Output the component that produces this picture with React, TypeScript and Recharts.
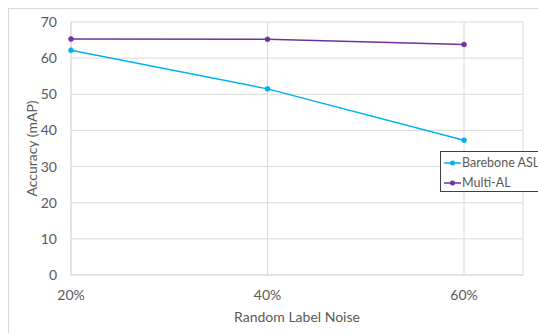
import React from 'react';
import { LineChart, Line, XAxis, YAxis, CartesianGrid, Legend, Label } from 'recharts';

// Accuracy under increasing random label noise
const noiseLevels = [20, 40, 60];
const bareboneAsl = [62.2, 51.5, 37.3];
const multiAl = [65.3, 65.2, 63.8];
const yTicks = [0, 10, 20, 30, 40, 50, 60, 70];
const xTicks = [20, 40, 60];
const seriesKeys = ['barebone', 'multi'];
const seriesNames = ['Barebone ASL', 'Multi-AL'];
const seriesColors = ['#00B0F0', '#7030A0'];

const data = noiseLevels.map((n, i) => ({
  noise: n,
  barebone: bareboneAsl[i],
  multi: multiAl[i],
}));

const FONT = 'Lato, "Open Sans", sans-serif';
const TEXT = '#595959';
const GRID = '#d9d9d9';

const LegendBox = (props: any) => {
  const { payload } = props;
  return (
    <div
      style={{
        border: '1px solid #404040',
        background: '#fff',
        width: 110,
        height: 41,
        boxSizing: 'border-box',
        paddingTop: 1,
        fontFamily: FONT,
        fontSize: 12.5,
        color: TEXT,
      }}
    >
      {(payload || []).map((entry: any) => (
        <div key={entry.value} style={{ display: 'flex', alignItems: 'center', height: 20, lineHeight: '20px' }}>
          <svg width={21} height={20} style={{ flex: 'none' }}>
            <line x1={3} y1={10} x2={20} y2={10} stroke={entry.color} strokeWidth={1.5} />
            <circle cx={11.5} cy={10} r={2.5} fill={entry.color} />
          </svg>
          <span style={{ whiteSpace: 'nowrap' }}>{entry.value}</span>
        </div>
      ))}
    </div>
  );
};

export default function App() {
  return (
    <>
      <style>{'html,body{margin:0;overflow:hidden}'}</style>
      <div
        style={{
          position: 'absolute',
          left: 8,
          top: 8,
          width: 530,
          height: 325,
          borderLeft: `1px solid ${GRID}`,
          borderTop: `1px solid ${GRID}`,
          boxSizing: 'border-box',
          overflow: 'hidden',
        }}
      >
        <div style={{ position: 'absolute', left: -1, top: -1 }}>
          <LineChart
            width={531}
            height={326}
            data={data}
            margin={{ top: 14, right: 16, left: 0, bottom: 0 }}
          >
            <CartesianGrid stroke={GRID} strokeWidth={1} vertical={true} horizontal={true} />
            <XAxis
              dataKey="noise"
              type="number"
              domain={[20, 66]}
              ticks={xTicks}
              tickFormatter={(v: number) => `${v}%`}
              height={59}
              axisLine={{ stroke: GRID }}
              tickLine={false}
              tickSize={6}
              tickMargin={9}
              tick={{ fill: TEXT, fontSize: 14, fontFamily: FONT }}
            >
              <Label
                content={(p: any) => {
                  const vb = p.viewBox || {};
                  return (
                    <text
                      x={vb.x + vb.width / 2}
                      y={vb.y + 41}
                      textAnchor="middle"
                      dominantBaseline="central"
                      fill={TEXT}
                      fontSize={14}
                      fontFamily={FONT}
                    >
                      Random Label Noise
                    </text>
                  );
                }}
              />
            </XAxis>
            <YAxis
              type="number"
              domain={[0, 70]}
              ticks={yTicks}
              width={63}
              axisLine={{ stroke: GRID }}
              tickLine={false}
              tickSize={6}
              tickMargin={8}
              tick={{ fill: TEXT, fontSize: 14, fontFamily: FONT }}
            >
              <Label
                content={(p: any) => {
                  const vb = p.viewBox || {};
                  const cx = vb.x + 23;
                  const cy = vb.y + vb.height / 2;
                  return (
                    <text
                      x={cx}
                      y={cy}
                      transform={`rotate(-90 ${cx} ${cy})`}
                      textAnchor="middle"
                      dominantBaseline="central"
                      fill={TEXT}
                      fontSize={14}
                      fontFamily={FONT}
                    >
                      Accuracy (mAP)
                    </text>
                  );
                }}
              />
            </YAxis>
            <Legend
              layout="vertical"
              align="center"
              verticalAlign="middle"
              content={<LegendBox />}
              wrapperStyle={{ left: 432, top: 143, width: 110 }}
            />
            {seriesKeys.map((k, i) => (
              <Line
                key={k}
                type="linear"
                dataKey={k}
                name={seriesNames[i]}
                stroke={seriesColors[i]}
                strokeWidth={1.5}
                dot={{ r: 2.5, fill: seriesColors[i], stroke: seriesColors[i], strokeWidth: 0.5 }}
                isAnimationActive={false}
              />
            ))}
          </LineChart>
        </div>
      </div>
    </>
  );
}
